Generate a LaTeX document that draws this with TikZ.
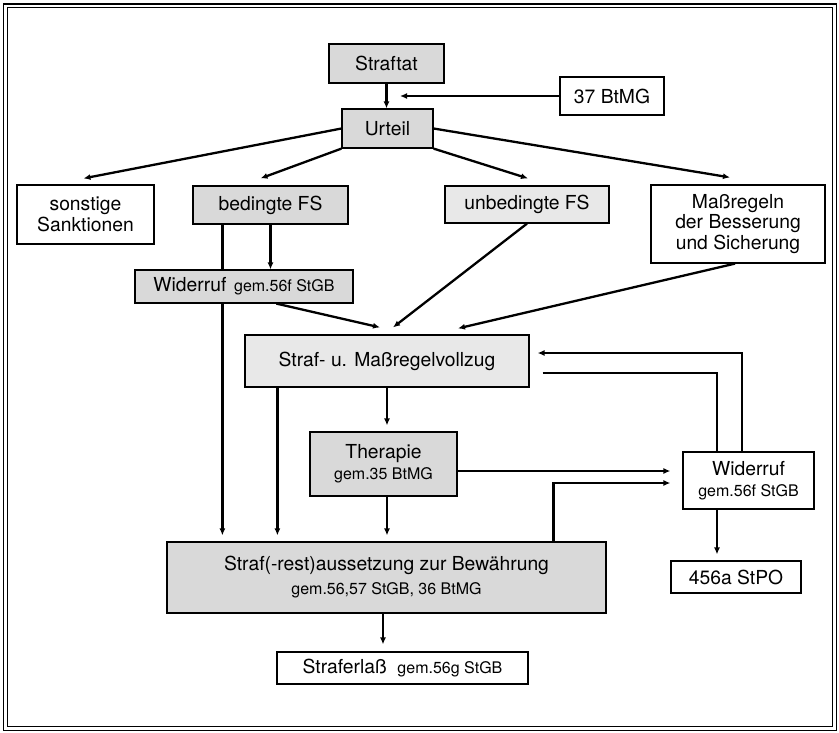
\documentclass[tikz,border=0pt]{standalone}
\usepackage{fontspec}
\setmainfont{TeX Gyre Heros}
\usetikzlibrary{arrows.meta,calc}
\pgfdeclarelayer{bg}
\pgfsetlayers{bg,main}
\newcommand{\sm}{\fontsize{16}{19}\selectfont}
\begin{document}
\begin{tikzpicture}[x=1pt,y=-1pt,
  font=\fontsize{19.3}{21}\selectfont,
  box/.style={draw, line width=1.2pt, inner sep=0pt, align=center},
  gbox/.style={box, fill=black!15},
  lbox/.style={box, fill=black!9},
  wbox/.style={box, fill=white},
  conn/.style={line width=2.3pt},
  arr/.style={conn, -{Latex[length=7pt,width=6pt]}}]
\useasboundingbox (0,0) rectangle (839,732);
% frame
\draw[line width=1.6pt] (3.5,4) rectangle (836.5,730.5);
\draw[line width=1.1pt] (7.5,7.5) rectangle (832.5,726.5);
% nodes
\node[gbox, minimum width=115pt, minimum height=39pt] (straftat) at (386.5,63.5) {Straftat};
\node[wbox, minimum width=104pt, minimum height=38pt] (btmg) at (612,96) {37 BtMG};
\node[gbox, minimum width=91pt, minimum height=39pt] (urteil) at (387.5,128.5) {Urteil};
\node[wbox, minimum width=137pt, minimum height=59pt, font=\fontsize{19.3}{20.5}\selectfont] (sonst) at (85.5,214.5) {sonstige\\Sanktionen};
\node[gbox, minimum width=155pt, minimum height=38pt] (bed) at (270.5,205) {bedingte FS};
\node[lbox, minimum width=164pt, minimum height=37pt] (unbed) at (527,204.5) {unbedingte FS};
\node[wbox, minimum width=174pt, minimum height=78pt, font=\fontsize{19.3}{20.5}\selectfont] (mass) at (738,224) {Maßregeln\\der Besserung\\und Sicherung};
\node[gbox, minimum width=218pt, minimum height=33pt] (wid1) at (244,286.5) {Widerruf\hspace{0.4em}{\sm gem.56f StGB}};
\node[lbox, minimum width=284pt, minimum height=52pt] (vollzug) at (387,361) {Straf- u. Maßregelvollzug};
\node[gbox, minimum width=147pt, minimum height=64pt] (ther) at (383.5,464) {Therapie\\{\sm gem.35 BtMG}};
\node[wbox, minimum width=131pt, minimum height=57pt] (wid2) at (748.5,480.5) {Widerruf\\{\sm gem.56f StGB}};
\node[wbox, minimum width=130pt, minimum height=32pt] (stpo) at (736,577) {456a StPO};
\node[gbox, minimum width=439pt, minimum height=71pt] (aus) at (386.5,577.5) {Straf(-rest)aussetzung zur Bewährung\\[3pt]{\sm gem.56,57 StGB, 36 BtMG}};
\node[wbox, minimum width=251pt, minimum height=32pt] (erlass) at (402.5,668) {Straferlaß\hspace{0.55em}{\sm gem.56g StGB}};
% connectors
\begin{pgfonlayer}{bg}
\draw[arr] (straftat.south) -- (straftat.south |- urteil.north);
\coordinate (c37) at (400,96);
\draw[arr] (btmg.west) -- (c37);
\draw[arr] (urteil.west) -- ($(sonst.north)+(-2,-6)$);
\draw[arr] (urteil.south west) -- ($(bed.north)+(-10,-7)$);
\draw[arr] (urteil.south east) -- ($(unbed.north)+(1,-7)$);
\draw[arr] (urteil.east) -- ($(mass.north)+(-8,-7)$);
\draw[arr] ($(bed.south west)+(30,0)$) coordinate (b1) -- ($(b1 |- aus.north)+(0,-6)$);
\draw[arr] (bed.south) -- (bed.south |- wid1.north);
\draw[arr] ($(wid1.south west)+(142,0)$) -- ($(vollzug.north)+(-7,-7)$);
\draw[arr] (unbed.south) -- ($(vollzug.north)+(6,-7)$);
\draw[arr] ($(mass.south)+(-3,0)$) -- ($(vollzug.north)+(71,-6)$);
\draw[arr] ($(vollzug.south west)+(33,0)$) coordinate (v1) -- ($(v1 |- aus.north)+(0,-6)$);
\draw[arr] (vollzug.south) -- ($(vollzug.south |- ther.north)+(0,-6)$);
\draw[arr] ($(ther.south)+(3.5,0)$) coordinate (t1) -- ($(t1 |- aus.north)+(0,-6)$);
\draw[arr] ($(ther.east)+(0,7)$) -- ($(wid2.west)+(-12,-9.5)$);
\draw[arr] ($(aus.north east)+(-53,0)$) |- ($(wid2.west)+(-12,2.5)$);
\draw[arr] ($(wid2.north)+(-6.5,0)$) |- ($(vollzug.east)+(8,-8)$);
\draw[conn] ($(vollzug.east)+(13,12)$) -| ($(wid2.north)+(-31.5,0)$);
\draw[arr] ($(wid2.south)+(-31.5,0)$) coordinate (w1) -- ($(w1 |- stpo.north)+(0,-6)$);
\draw[arr] ($(aus.south)+(-3.5,0)$) coordinate (a1) -- ($(a1 |- erlass.north)+(0,-7)$);
\end{pgfonlayer}
\end{tikzpicture}
\end{document}
